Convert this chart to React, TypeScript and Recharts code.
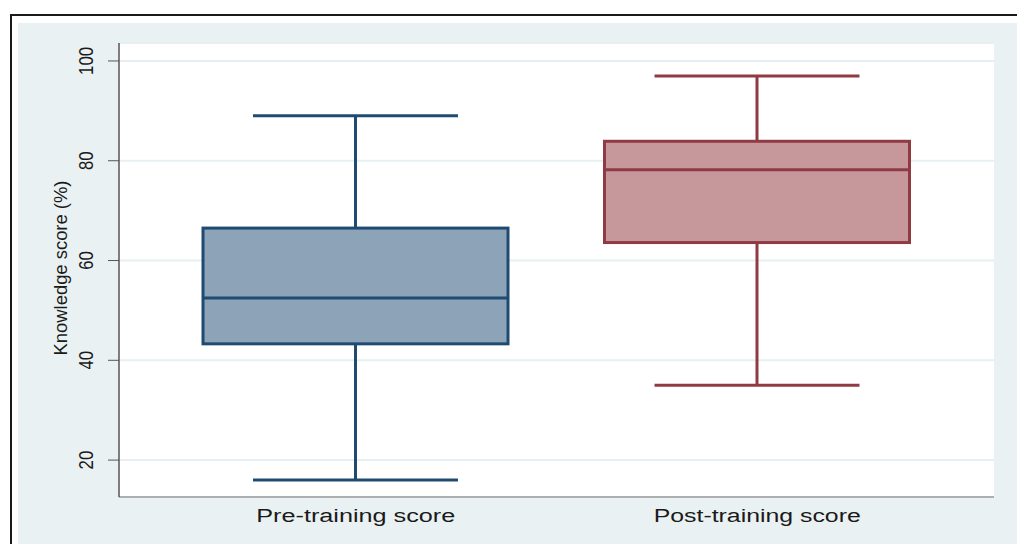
import { ComposedChart, Bar, XAxis, YAxis, CartesianGrid } from "recharts";

const groups = ["Pre-training score", "Post-training score"];
const whiskerLow = [16, 35];
const whiskerHigh = [89, 97];
const quartile1 = [43.3, 63.6];
const medians = [52.5, 78.2];
const quartile3 = [66.5, 83.9];
const yTicks = [20, 40, 60, 80, 100];

const fills = ["#8da3b8", "#c7989b"];
const strokes = ["#1f4a72", "#903a44"];

const data = groups.map((name, i) => ({
  name,
  range: [whiskerLow[i], whiskerHigh[i]],
  q1: quartile1[i],
  median: medians[i],
  q3: quartile3[i],
  idx: i,
}));

const BoxShape = (props: any) => {
  const { x, y, width, height, payload } = props;
  const [lo, hi] = payload.range;
  const k = height / (hi - lo);
  const py = (v: number) => y + (hi - v) * k;
  const stroke = strokes[payload.idx];
  const fill = fills[payload.idx];
  const cx = x + width / 2;
  const capHalf = (width * 0.672) / 2;
  return (
    <g>
      <line x1={cx} x2={cx} y1={py(hi)} y2={py(payload.q3)} stroke={stroke} strokeWidth={3} />
      <line x1={cx} x2={cx} y1={py(payload.q1)} y2={py(lo)} stroke={stroke} strokeWidth={3} />
      <line x1={cx - capHalf} x2={cx + capHalf} y1={py(hi)} y2={py(hi)} stroke={stroke} strokeWidth={3} />
      <line x1={cx - capHalf} x2={cx + capHalf} y1={py(lo)} y2={py(lo)} stroke={stroke} strokeWidth={3} />
      <rect
        x={x}
        y={py(payload.q3)}
        width={width}
        height={py(payload.q1) - py(payload.q3)}
        fill={fill}
        stroke={stroke}
        strokeWidth={3}
      />
      <line x1={x} x2={x + width} y1={py(payload.median)} y2={py(payload.median)} stroke={stroke} strokeWidth={3} />
    </g>
  );
};

const XTick = (props: any) => {
  const { x, y, payload } = props;
  const len = payload.value.startsWith("Pre") ? 199 : 207;
  return (
    <text
      x={x}
      y={y + 25}
      textAnchor="middle"
      fontSize={18}
      fill="#1a1a1a"
      textLength={len}
      lengthAdjust="spacingAndGlyphs"
      fontFamily="Liberation Sans, Arial, sans-serif"
    >
      {payload.value}
    </text>
  );
};

const YTick = (props: any) => {
  const { x, y, payload } = props;
  const s = String(payload.value);
  return (
    <text
      transform={`translate(${x - 15},${y}) rotate(-90)`}
      textAnchor="middle"
      fontSize={20}
      fill="#1a1a1a"
      textLength={s.length * 9.3}
      lengthAdjust="spacingAndGlyphs"
      fontFamily="Liberation Sans, Arial, sans-serif"
    >
      {s}
    </text>
  );
};

const YLabel = (props: any) => {
  const vb = props.viewBox || { x: 0, y: 43, width: 119, height: 454 };
  const cy = vb.y + vb.height / 2;
  return (
    <text
      transform={`translate(67,${cy - 2}) rotate(-90)`}
      textAnchor="middle"
      fontSize={19}
      fill="#1a1a1a"
      textLength={175}
      lengthAdjust="spacingAndGlyphs"
      fontFamily="Liberation Sans, Arial, sans-serif"
    >
      Knowledge score (%)
    </text>
  );
};

export default function App() {
  return (
    <div style={{ position: "absolute", left: 0, top: 0, width: 1017, height: 544, background: "#fff", overflow: "hidden" }}>
      <div
        style={{
          position: "absolute",
          left: 10,
          top: 14,
          width: 1017,
          height: 540,
          borderTop: "2px solid #1a1a1a",
          borderLeft: "2px solid #1a1a1a",
        }}
      />
      <div style={{ position: "absolute", left: 18, top: 23, right: 0, bottom: 0, background: "#eaf1f3" }} />
      <div style={{ position: "absolute", left: 0, top: 0 }}>
        <ComposedChart width={1017} height={544} data={data} margin={{ top: 43, right: 23, bottom: 0, left: 0 }}>
          <CartesianGrid vertical={false} fill="#ffffff" stroke="#e6eff1" strokeWidth={2} />
          <XAxis
            dataKey="name"
            height={47}
            padding={{ left: 36, right: 36 }}
            tickLine={false}
            tickSize={0}
            tickMargin={0}
            axisLine={{ stroke: "#9a9a9a", strokeWidth: 1.5 }}
            tick={<XTick />}
          />
          <YAxis
            type="number"
            width={119}
            domain={[12.6, 103.6]}
            ticks={yTicks}
            allowDataOverflow
            tickSize={11}
            tickMargin={0}
            tickLine={{ stroke: "#555" }}
            axisLine={{ stroke: "#555", strokeWidth: 1.5 }}
            tick={<YTick />}
            label={<YLabel />}
          />
          <Bar dataKey="range" barSize={305} shape={<BoxShape />} isAnimationActive={false} />
        </ComposedChart>
      </div>
    </div>
  );
}
